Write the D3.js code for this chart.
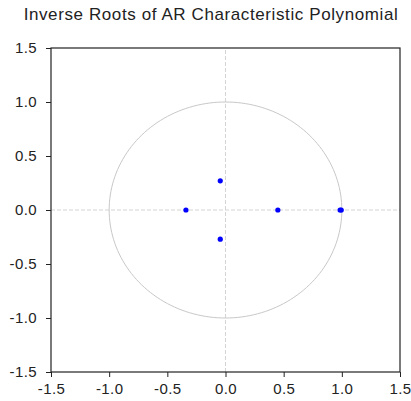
<!DOCTYPE html>
<html>
<head>
<meta charset="utf-8">
<script src="https://cdn.jsdelivr.net/npm/d3@7"></script>
<style>
  body { margin: 0; background: #fff; }
  text { font-family: "Liberation Sans", Arial, sans-serif; }
</style>
</head>
<body>
<div id="chart"></div>
<script>
// inverse roots (real, imaginary)
const rootRe = [-0.045, -0.045, -0.34, 0.45, 0.985, 0.995];
const rootIm = [0.27, -0.27, 0.0, 0.0, 0.0, 0.0];
const tickValues = [-1.5, -1.0, -0.5, 0.0, 0.5, 1.0, 1.5];
const title = "Inverse Roots of AR Characteristic Polynomial";

const width = 411, height = 401;
const margin = { top: 48, right: 11, bottom: 29, left: 51 };

const svg = d3.select("#chart").append("svg")
    .attr("width", width)
    .attr("height", height);

const x = d3.scaleLinear().domain([-1.5, 1.5]).range([margin.left, width - margin.right]);
const y = d3.scaleLinear().domain([-1.5, 1.5]).range([height - margin.bottom, margin.top]);

// title
svg.append("text")
    .attr("x", 211)
    .attr("y", 19.5)
    .attr("text-anchor", "middle")
    .attr("font-size", "17px")
    .attr("letter-spacing", "0.6px")
    .attr("fill", "#222")
    .text(title);

// zero lines
svg.append("line")
    .attr("x1", x(-1.5)).attr("x2", x(1.5))
    .attr("y1", y(0)).attr("y2", y(0))
    .attr("stroke", "#d4d4d4").attr("stroke-dasharray", "4,2");
svg.append("line")
    .attr("x1", x(0)).attr("x2", x(0))
    .attr("y1", y(-1.5)).attr("y2", y(1.5))
    .attr("stroke", "#d4d4d4").attr("stroke-dasharray", "4,2");

// unit circle
const circlePts = d3.range(0, 361, 2).map(a => [Math.cos(a * Math.PI / 180), Math.sin(a * Math.PI / 180)]);
svg.append("path")
    .attr("d", d3.line().x(d => x(d[0])).y(d => y(d[1]))(circlePts))
    .attr("fill", "none")
    .attr("stroke", "#c8c8c8")
    .attr("stroke-width", 1);

// frame
svg.append("rect")
    .attr("x", x(-1.5)).attr("y", y(1.5))
    .attr("width", x(1.5) - x(-1.5))
    .attr("height", y(-1.5) - y(1.5))
    .attr("fill", "none")
    .attr("stroke", "#222")
    .attr("stroke-width", 1.2);

// axes (plain hyphen for negatives, like the original)
const fmt = d => d.toFixed(1);
const xAxis = svg.append("g")
    .attr("transform", `translate(0,${y(-1.5)})`)
    .call(d3.axisBottom(x).tickValues(tickValues).tickFormat(fmt).tickSize(5).tickSizeOuter(0));
const yAxis = svg.append("g")
    .attr("transform", `translate(${x(-1.5)},0)`)
    .call(d3.axisLeft(y).tickValues(tickValues).tickFormat(fmt).tickSize(5).tickSizeOuter(0));

[xAxis, yAxis].forEach(g => {
    g.select(".domain").remove();
    g.selectAll("line").attr("stroke", "#222");
    g.selectAll("text")
        .attr("font-size", "15px")
        .attr("letter-spacing", "0.4px")
        .attr("fill", "#222")
        .attr("font-family", "Liberation Sans, Arial, sans-serif");
});
xAxis.selectAll("text").attr("dy", "0.95em");
yAxis.selectAll("text").attr("x", -14);

// roots
svg.selectAll("circle.root")
    .data(rootRe.map((r, i) => [r, rootIm[i]]))
    .enter()
    .append("circle")
    .attr("class", "root")
    .attr("cx", d => x(d[0]))
    .attr("cy", d => y(d[1]))
    .attr("r", 2.6)
    .attr("fill", "#0000ff");
</script>
</body>
</html>
